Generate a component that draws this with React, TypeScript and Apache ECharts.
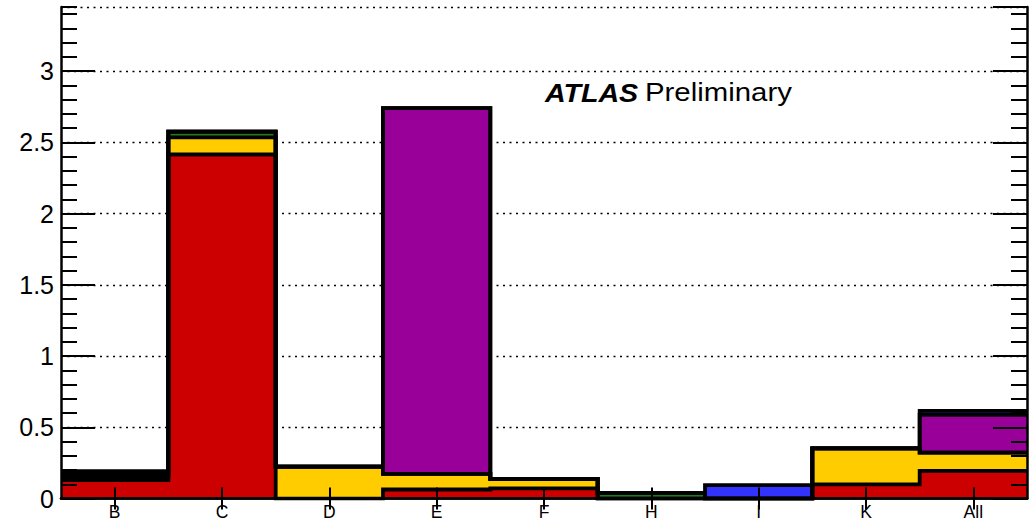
import React, { useEffect, useRef } from 'react';
import * as echarts from 'echarts';

const categories = ['B', 'C', 'D', 'E', 'F', 'H', 'I', 'K', 'All'];
const red = [0.13, 2.415, 0, 0.064, 0.072, 0, 0, 0.1, 0.195];
const yellow = [0.021, 0.12, 0.225, 0.109, 0.066, 0, 0, 0.253, 0.128];
const green = [0.021, 0.04, 0, 0, 0, 0.04, 0, 0, 0];
const purple = [0, 0, 0, 2.568, 0, 0, 0, 0, 0.265];
const blue = [0.021, 0, 0, 0, 0, 0, 0.095, 0, 0.027];

const Y_MAX = 3.45;
const FONT = '"Liberation Sans", Arial, Helvetica, sans-serif';

const layers = [
  { values: red, color: '#cc0000' },
  { values: yellow, color: '#ffcc00' },
  { values: green, color: '#1e7b1e' },
  { values: purple, color: '#990099' },
  { values: blue, color: '#3333ff' },
];

function buildSeries() {
  const cum: { color: string; values: number[] }[] = [];
  let running = categories.map(() => 0);
  layers.forEach((l) => {
    running = running.map((v, i) => +(v + l.values[i]).toFixed(4));
    cum.push({ color: l.color, values: running.slice() });
  });
  const toStep = (vals: number[]) => [
    ...vals.map((v, i) => [i, v]),
    [vals.length, vals[vals.length - 1]],
  ];
  return cum
    .slice()
    .reverse()
    .map((c) => ({
      type: 'line',
      xAxisIndex: 2,
      yAxisIndex: 0,
      step: 'end',
      symbol: 'none',
      silent: true,
      z: 2,
      data: toStep(c.values),
      lineStyle: { color: '#000', width: 3.8, join: 'miter' },
      areaStyle: { color: c.color, opacity: 1 },
    }));
}

export default function App() {
  const ref = useRef<HTMLDivElement>(null);
  useEffect(() => {
    if (!ref.current) return;
    const chart = echarts.init(ref.current, null, { renderer: 'svg' });
    const majorY = (position: string, labels: boolean) => ({
      type: 'value',
      min: 0,
      max: Y_MAX,
      interval: 0.5,
      position,
      z: 10,
      axisLine: { show: true, lineStyle: { color: '#000', width: 2.5 } },
      axisTick: { show: true, inside: true, length: 34, lineStyle: { color: '#000', width: 2 } },
      axisLabel: {
        show: labels,
        showMaxLabel: false,
        color: '#000',
        fontSize: 25,
        fontFamily: FONT,
        margin: 7,
      },
      splitLine: { show: false },
    });
    const minorY = (position: string) => ({
      type: 'value',
      min: 0,
      max: Y_MAX,
      interval: 0.1,
      position,
      z: 10,
      axisLine: { show: false },
      axisTick: { show: true, inside: true, length: 16, lineStyle: { color: '#000', width: 2 } },
      axisLabel: { show: false },
      splitLine: { show: false },
    });
    chart.setOption({
      animation: false,
      backgroundColor: '#fff',
      grid: { left: 61, right: 2, top: 7, bottom: 22.4, containLabel: false, outerBoundsMode: 'none' },
      xAxis: [
        {
          type: 'category',
          data: categories,
          position: 'bottom',
          boundaryGap: true,
          z: 10,
          axisLine: { show: true, lineStyle: { color: '#000', width: 2.5 } },
          axisTick: { show: true, inside: true, length: 11, alignWithLabel: true, lineStyle: { color: '#000', width: 2 } },
          axisLabel: {
            show: true,
            interval: 0,
            color: '#000',
            fontSize: 17.5,
            lineHeight: 17,
            fontFamily: FONT,
            margin: 5,
          },
          splitLine: { show: false },
        },
        {
          type: 'category',
          data: categories,
          position: 'top',
          boundaryGap: true,
          z: 10,
          axisLine: { show: true, lineStyle: { color: '#000', width: 2.5 } },
          axisTick: { show: true, inside: true, length: 11, alignWithLabel: true, lineStyle: { color: '#000', width: 2 } },
          axisLabel: { show: false },
          splitLine: { show: false },
        },
        { type: 'value', min: 0, max: categories.length, show: false },
      ],
      yAxis: [
        majorY('left', true),
        minorY('left'),
        majorY('right', false),
        minorY('right'),
        {
          type: 'value',
          min: 0,
          max: Y_MAX,
          interval: 0.5,
          position: 'left',
          axisLine: { show: false },
          axisTick: { show: false },
          axisLabel: { show: false },
          splitLine: { show: true, lineStyle: { color: '#000', width: 1.4, type: [2, 4.5] } },
        },
      ],
      series: buildSeries(),
      graphic: [
        {
          type: 'text',
          x: 545,
          y: 92.5,
          scaleX: 1.1,
          z: 20,
          style: {
            text: 'ATLAS',
            fontFamily: FONT,
            fontSize: 26,
            fontWeight: 'bold',
            fontStyle: 'italic',
            fill: '#000',
            align: 'left',
            verticalAlign: 'middle',
          },
        },
        {
          type: 'text',
          x: 645,
          y: 92.5,
          scaleX: 1.13,
          z: 20,
          style: {
            text: 'Preliminary',
            fontFamily: FONT,
            fontSize: 26,
            fill: '#000',
            align: 'left',
            verticalAlign: 'middle',
          },
        },
      ],
    });
    return () => chart.dispose();
  }, []);
  return (
    <div
      ref={ref}
      style={{ position: 'absolute', left: 0, top: 0, width: 1029, height: 521, background: '#fff' }}
    />
  );
}
